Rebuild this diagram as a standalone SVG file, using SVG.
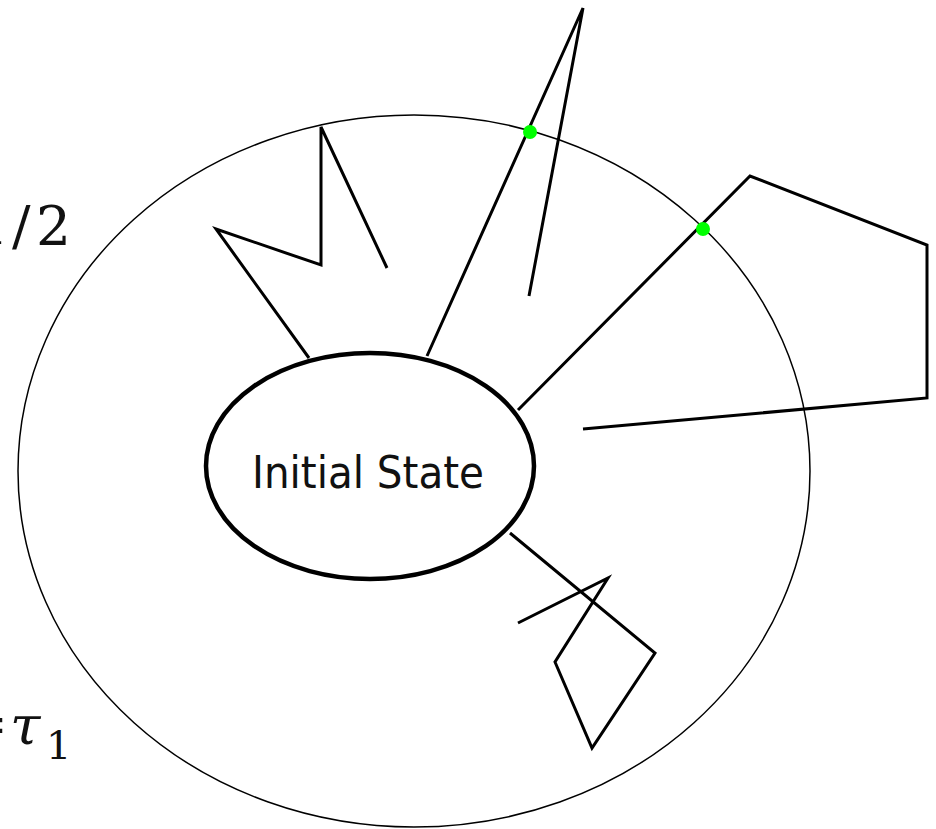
<svg xmlns="http://www.w3.org/2000/svg" width="936" height="829" viewBox="0 0 936 829">
  <style>
    .bound { fill: none; stroke: #000; stroke-width: 1.5; }
    .state { fill: #fff; stroke: #000; stroke-width: 4.5; }
    .walk { fill: none; stroke: #000; stroke-width: 3; stroke-linejoin: miter; }
    .hit { fill: #00ff00; }
    .label { font-family: "DejaVu Sans", "Noto Sans", sans-serif; font-size: 44px; fill: #111; }
    .math { font-family: "DejaVu Serif", "Liberation Serif", serif; font-size: 55px; fill: #111; }
    .sub { font-family: "DejaVu Serif", "Liberation Serif", serif; font-size: 40px; fill: #111; }
  </style>

  <rect width="936" height="829" fill="#fff"/>

  <!-- outer boundary -->
  <ellipse class="bound" cx="414" cy="471" rx="396" ry="356"/>

  <!-- random walks leaving the initial state -->
  <g id="connectors">
    <polyline class="walk" points="309,358 216,229 321,265 321,127 387,268"/>
    <polyline class="walk" points="427,356 583,8 529,296"/>
    <polyline class="walk" points="518,410 750,176 927,245 927,398 583,429"/>
    <polyline class="walk" points="510,533 655,653 592,748 555,662 608,578 518,623"/>
  </g>

  <!-- first-exit points on the boundary -->
  <g id="exit-1">
    <circle class="hit" cx="530" cy="132" r="7"/>
  </g>
  <g id="exit-2">
    <circle class="hit" cx="703" cy="229" r="7"/>
  </g>

  <!-- initial state -->
  <g id="initial-state">
    <ellipse class="state" cx="370" cy="466" rx="164" ry="113"/>
    <text class="label" x="252" y="488" textLength="232" lengthAdjust="spacingAndGlyphs">Initial State</text>
  </g>

  <!-- side labels -->
  <g id="label-half">
    <text class="math" x="-26" y="245">1</text>
    <text class="math" x="12" y="245">/</text>
    <text class="math" x="36" y="245">2</text>
  </g>
  <g id="label-tau">
    <text class="math" x="-38" y="743">=</text>
    <text class="math" x="10" y="744" font-size="58" font-style="italic">τ</text>
    <text class="sub" x="46" y="759">1</text>
  </g>
</svg>
